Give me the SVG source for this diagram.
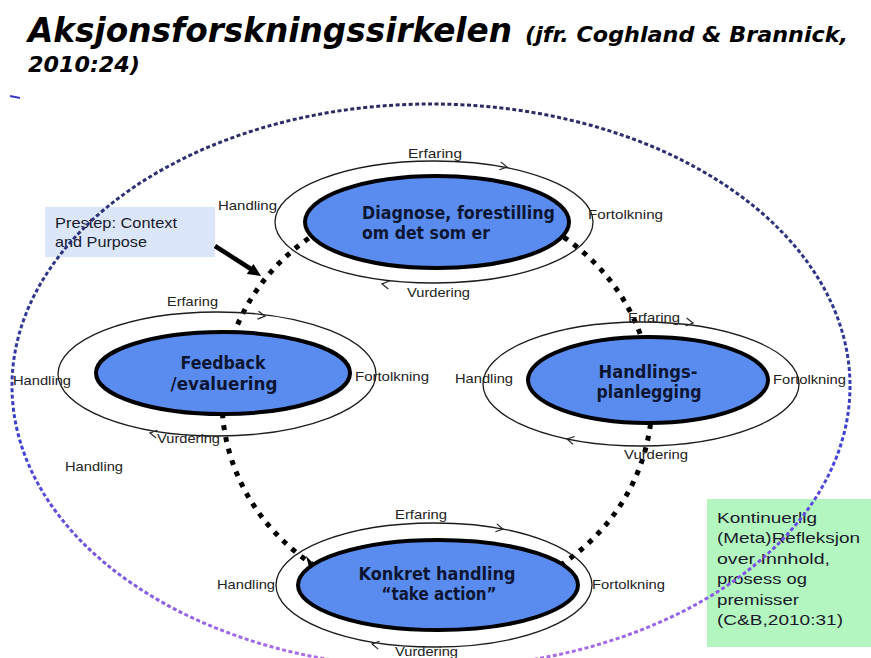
<svg xmlns="http://www.w3.org/2000/svg" width="871" height="658" viewBox="0 0 871 658">
  <style>
    .title { font-family: "DejaVu Sans", "Liberation Sans", sans-serif; font-weight: bold; font-style: italic; fill: #000; }
    .lbl { font-family: "Liberation Sans", Arial, sans-serif; font-size: 13px; fill: #222; }
    .box-text { font-family: "Liberation Sans", Arial, sans-serif; font-size: 15px; fill: #1a1a2a; }
    .ring { fill: none; stroke: #1c1c1c; stroke-width: 1.3; }
    .core { fill: #5a8cf0; stroke: #000; stroke-width: 4; }
    .core-text { font-family: "DejaVu Sans", Verdana, sans-serif; font-weight: bold; font-size: 17px; fill: #0c1633; }
    .chev { fill: none; stroke: #222; stroke-width: 1.2; }
    .cycle { fill: none; stroke: #000; stroke-width: 5; stroke-dasharray: 5 7; }
  </style>
  <defs>
    <linearGradient id="outerGrad" gradientUnits="userSpaceOnUse" x1="0" y1="100" x2="0" y2="668">
      <stop offset="0" stop-color="#2a2c60"/>
      <stop offset="0.4" stop-color="#2f3894"/>
      <stop offset="0.6" stop-color="#3c40d8"/>
      <stop offset="0.82" stop-color="#7c56e2"/>
      <stop offset="1" stop-color="#b070e8"/>
    </linearGradient>
    <path id="chevron" d="M-7,-4 L0,0 L-7,4"/>
  </defs>

  <!-- heading -->
  <g id="title">
    <text class="title" x="28" y="42" font-size="34" textLength="484" lengthAdjust="spacingAndGlyphs">Aksjonsforskningssirkelen</text>
    <text class="title" x="525" y="42" font-size="22" textLength="323" lengthAdjust="spacingAndGlyphs">(jfr. Coghland &amp; Brannick,</text>
    <text class="title" x="28" y="72" font-size="22" textLength="112" lengthAdjust="spacingAndGlyphs">2010:24)</text>
  </g>

  <!-- side notes -->
  <g id="prestep">
    <rect x="45" y="207" width="170" height="50" fill="#dbe6fa"/>
    <text class="box-text" x="55" y="228" textLength="122" lengthAdjust="spacingAndGlyphs">Prestep: Context</text>
    <text class="box-text" x="55" y="247" textLength="92" lengthAdjust="spacingAndGlyphs">and Purpose</text>
  </g>
  <g id="meta-reflection">
    <rect x="707" y="499" width="164" height="148" fill="#b4f6c0"/>
    <text class="box-text" x="717" y="523" textLength="100" lengthAdjust="spacingAndGlyphs">Kontinuerlig</text>
    <text class="box-text" x="717" y="543" textLength="143" lengthAdjust="spacingAndGlyphs">(Meta)Refleksjon</text>
    <text class="box-text" x="717" y="564" textLength="113" lengthAdjust="spacingAndGlyphs">over Innhold,</text>
    <text class="box-text" x="717" y="584" textLength="90" lengthAdjust="spacingAndGlyphs">prosess og</text>
    <text class="box-text" x="717" y="605" textLength="82" lengthAdjust="spacingAndGlyphs">premisser</text>
    <text class="box-text" x="717" y="625" textLength="126" lengthAdjust="spacingAndGlyphs">(C&amp;B,2010:31)</text>
  </g>

  <!-- the research cycle linking the four phases -->
  <g id="connectors">
    <ellipse class="cycle" cx="437" cy="400" rx="215" ry="201.6"/>
    <path d="M306,556 L316,566 L309,567 Z" fill="#000"/>
  </g>

  <g id="node-diagnose">
    <ellipse class="ring" cx="434" cy="222" rx="159" ry="61"/>
    <use href="#chevron" class="chev" transform="translate(507,167) rotate(10)"/>
    <use href="#chevron" class="chev" transform="translate(382,284) rotate(188)"/>
    <ellipse class="core" cx="437" cy="222" rx="132" ry="46"/>
    <text class="core-text" x="362" y="219" textLength="193" lengthAdjust="spacingAndGlyphs">Diagnose, forestilling</text>
    <text class="core-text" x="362" y="239" textLength="128" lengthAdjust="spacingAndGlyphs">om det som er</text>
    <text class="lbl" x="408" y="158" textLength="54" lengthAdjust="spacingAndGlyphs">Erfaring</text>
    <text class="lbl" x="218" y="210" textLength="59" lengthAdjust="spacingAndGlyphs">Handling</text>
    <text class="lbl" x="588" y="219" textLength="75" lengthAdjust="spacingAndGlyphs">Fortolkning</text>
    <text class="lbl" x="407" y="297" textLength="63" lengthAdjust="spacingAndGlyphs">Vurdering</text>
  </g>

  <g id="node-feedback">
    <ellipse class="ring" cx="217" cy="374" rx="159" ry="62"/>
    <use href="#chevron" class="chev" transform="translate(265,316) rotate(7)"/>
    <use href="#chevron" class="chev" transform="translate(150,433) rotate(190)"/>
    <ellipse class="core" cx="223" cy="373" rx="127" ry="41"/>
    <text class="core-text" x="223" y="369" text-anchor="middle" textLength="85" lengthAdjust="spacingAndGlyphs">Feedback</text>
    <text class="core-text" x="224" y="390" text-anchor="middle" textLength="107" lengthAdjust="spacingAndGlyphs">/evaluering</text>
    <text class="lbl" x="167" y="306" textLength="51" lengthAdjust="spacingAndGlyphs">Erfaring</text>
    <text class="lbl" x="13" y="385" textLength="58" lengthAdjust="spacingAndGlyphs">Handling</text>
    <text class="lbl" x="355" y="381" textLength="74" lengthAdjust="spacingAndGlyphs">Fortolkning</text>
    <text class="lbl" x="157" y="443" textLength="63" lengthAdjust="spacingAndGlyphs">Vurdering</text>
    <text class="lbl" x="65" y="471" textLength="58" lengthAdjust="spacingAndGlyphs">Handling</text>
  </g>

  <g id="node-planning">
    <ellipse class="ring" cx="641" cy="384" rx="158" ry="62"/>
    <use href="#chevron" class="chev" transform="translate(693,323) rotate(8)"/>
    <use href="#chevron" class="chev" transform="translate(567,439) rotate(192)"/>
    <ellipse class="core" cx="648" cy="380" rx="120" ry="43"/>
    <text class="core-text" x="648" y="378" text-anchor="middle" textLength="99" lengthAdjust="spacingAndGlyphs">Handlings-</text>
    <text class="core-text" x="649" y="398" text-anchor="middle" textLength="105" lengthAdjust="spacingAndGlyphs">planlegging</text>
    <text class="lbl" x="628" y="322" textLength="52" lengthAdjust="spacingAndGlyphs">Erfaring</text>
    <text class="lbl" x="455" y="383" textLength="58" lengthAdjust="spacingAndGlyphs">Handling</text>
    <text class="lbl" x="773" y="384" textLength="73" lengthAdjust="spacingAndGlyphs">Fortolkning</text>
    <text class="lbl" x="624" y="459" textLength="64" lengthAdjust="spacingAndGlyphs">Vurdering</text>
  </g>

  <g id="node-action">
    <ellipse class="ring" cx="434" cy="585" rx="158" ry="62"/>
    <use href="#chevron" class="chev" transform="translate(503,529) rotate(10)"/>
    <use href="#chevron" class="chev" transform="translate(372,644) rotate(190)"/>
    <ellipse class="core" cx="438" cy="585" rx="140" ry="45"/>
    <text class="core-text" x="437" y="580" font-size="16" text-anchor="middle" textLength="157" lengthAdjust="spacingAndGlyphs">Konkret handling</text>
    <text class="core-text" x="439" y="600" font-size="16" text-anchor="middle" textLength="115" lengthAdjust="spacingAndGlyphs">“take action”</text>
    <text class="lbl" x="395" y="519" textLength="52" lengthAdjust="spacingAndGlyphs">Erfaring</text>
    <text class="lbl" x="217" y="589" textLength="58" lengthAdjust="spacingAndGlyphs">Handling</text>
    <text class="lbl" x="592" y="589" textLength="73" lengthAdjust="spacingAndGlyphs">Fortolkning</text>
    <text class="lbl" x="395" y="656" textLength="63" lengthAdjust="spacingAndGlyphs">Vurdering</text>
  </g>

  <!-- pointer from the prestep note into the cycle -->
  <g id="prestep-arrow">
    <line x1="215" y1="246" x2="251" y2="269" stroke="#000" stroke-width="4.5"/>
    <polygon points="261,276 246.8,273.9 253.4,263.9" fill="#000"/>
  </g>

  <!-- continuous reflection boundary -->
  <g id="reflection-boundary">
    <ellipse cx="431" cy="386" rx="419" ry="282" fill="none" stroke="url(#outerGrad)" stroke-width="3" stroke-dasharray="4 2.5"/>
    <line x1="10" y1="96" x2="20" y2="98" stroke="#3838c8" stroke-width="2"/>
  </g>
</svg>
